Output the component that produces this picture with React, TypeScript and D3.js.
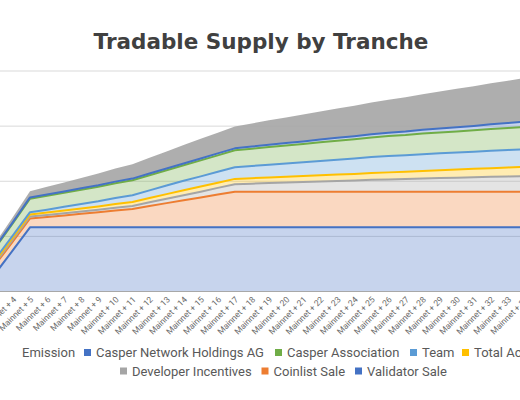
import React from "react";
import * as d3 from "d3";

const categories = [
  "Mainnet + 1", "Mainnet + 2", "Mainnet + 3", "Mainnet + 4", "Mainnet + 5", "Mainnet + 6",
  "Mainnet + 7", "Mainnet + 8", "Mainnet + 9", "Mainnet + 10", "Mainnet + 11", "Mainnet + 12",
  "Mainnet + 13", "Mainnet + 14", "Mainnet + 15", "Mainnet + 16", "Mainnet + 17", "Mainnet + 18",
  "Mainnet + 19", "Mainnet + 20", "Mainnet + 21", "Mainnet + 22", "Mainnet + 23", "Mainnet + 24",
  "Mainnet + 25", "Mainnet + 26", "Mainnet + 27", "Mainnet + 28", "Mainnet + 29", "Mainnet + 30",
  "Mainnet + 31", "Mainnet + 32", "Mainnet + 33", "Mainnet + 34",
];

// values in millions of tokens, bottom of stack first
const validatorSale = [0, 0, 340, 750, 1165, 1165, 1165, 1165, 1165, 1165, 1165, 1165, 1165, 1165, 1165, 1165, 1165, 1165, 1165, 1165, 1165, 1165, 1165, 1165, 1165, 1165, 1165, 1165, 1165, 1165, 1165, 1165, 1165, 1165];
const coinlistSale = [160, 160, 160, 160, 160, 186, 215, 244, 273, 304, 333, 386, 438, 489, 541, 594, 646, 646, 646, 646, 646, 646, 646, 646, 646, 646, 646, 646, 646, 646, 646, 646, 646, 646];
const developerIncentives = [33, 33, 33, 34, 36, 38, 40, 42, 45, 51, 54, 67, 78, 91, 105, 121, 136, 145, 156, 165, 174, 185, 194, 203, 214, 223, 230, 239, 246, 253, 262, 270, 277, 284];
const totalAccelerator = [36, 36, 36, 36, 36, 42, 49, 54, 60, 67, 72, 78, 85, 91, 92, 94, 96, 100, 103, 107, 110, 112, 116, 119, 123, 127, 132, 138, 143, 147, 152, 157, 163, 168];
const team = [33, 34, 36, 38, 42, 54, 69, 81, 94, 109, 121, 138, 156, 172, 185, 197, 210, 221, 230, 241, 250, 261, 270, 281, 290, 299, 300, 304, 306, 310, 311, 315, 317, 319];
const casperAssociation = [181, 190, 199, 221, 244, 250, 253, 259, 262, 268, 272, 275, 277, 281, 290, 299, 308, 313, 320, 326, 331, 338, 344, 349, 357, 362, 367, 373, 378, 382, 387, 393, 398, 404];
const casperNetworkHoldings = [16, 18, 18, 20, 24, 25, 25, 27, 29, 29, 31, 32, 33, 33, 34, 35, 36, 39, 42, 43, 47, 49, 52, 54, 58, 60, 63, 69, 72, 78, 81, 87, 90, 94];
const emission = [24, 47, 72, 92, 112, 138, 163, 188, 212, 237, 262, 284, 308, 335, 357, 376, 398, 420, 443, 465, 487, 510, 532, 554, 576, 597, 623, 646, 672, 697, 720, 746, 769, 795];

const seriesNames = [
  "Validator Sale", "Coinlist Sale", "Developer Incentives", "Total Accelerator",
  "Team", "Casper Association", "Casper Network Holdings AG", "Emission",
];
const seriesValues = [
  validatorSale, coinlistSale, developerIncentives, totalAccelerator,
  team, casperAssociation, casperNetworkHoldings, emission,
];
const yTicks = [0, 1000, 2000, 3000, 4000];

const COLORS: Record<string, string> = {
  "Validator Sale": "#4472c4",
  "Coinlist Sale": "#ed7d31",
  "Developer Incentives": "#a5a5a5",
  "Total Accelerator": "#ffc000",
  "Team": "#5b9bd5",
  "Casper Association": "#70ad47",
  "Casper Network Holdings AG": "#4472c4",
  "Emission": "#a5a5a5",
};

// legend layout (text start positions)
const legendRow1 = [
  { name: "Emission", x: 22, marker: false },
  { name: "Casper Network Holdings AG", x: 96, marker: true },
  { name: "Casper Association", x: 287, marker: true },
  { name: "Team", x: 422, marker: true },
  { name: "Total Accelerator", x: 474, marker: true },
];
const legendRow2 = [
  { name: "Developer Incentives", x: 132, marker: true },
  { name: "Coinlist Sale", x: 273.5, marker: true },
  { name: "Validator Sale", x: 367, marker: true },
];

export default function App() {
  const W = 520, H = 400;
  const step = 17.07;
  const x = d3.scalePoint<string>().domain(categories)
    .range([30 - 4 * step, 30 + 29 * step]).padding(0);
  const y = d3.scaleLinear().domain([0, 4000]).range([291.5, 71]);

  const table = categories.map((c, i) => {
    const row: any = { cat: c };
    seriesNames.forEach((n, k) => (row[n] = seriesValues[k][i]));
    return row;
  });
  const stacked = d3.stack<any>().keys(seriesNames)(table);

  const area = d3.area<any>()
    .x((d) => x(d.data.cat) as number)
    .y0((d) => y(d[0]))
    .y1((d) => y(d[1]));
  const line = d3.line<any>()
    .x((d) => x(d.data.cat) as number)
    .y((d) => y(d[1]));

  const font = "Roboto, 'Noto Sans', Arial, sans-serif";

  return (
    <svg width={W} height={H} style={{ position: "absolute", left: 0, top: 0, background: "#fff" }}
      fontFamily={font}>
      <rect x={0} y={0} width={W} height={H} fill="#fff" />
      <text x={261} y={48.5} textAnchor="middle" fontSize={21.5} fontWeight={700} fill="#404040"
        fontFamily="'DejaVu Sans', Arial, sans-serif">
        Tradable Supply by Tranche
      </text>
      {yTicks.map((t) => (
        <line key={t} x1={0} x2={W} y1={y(t)} y2={y(t)} stroke="#d9d9d9" strokeWidth={1} />
      ))}
      {stacked.map((s) => {
        const n = s.key;
        const isEm = n === "Emission";
        return (
          <path key={"a" + n} d={area(s) as string} fill={isEm ? "#a5a5a5" : COLORS[n]}
            fillOpacity={isEm ? 0.9 : 0.3} stroke="none" />
        );
      })}
      {stacked.map((s) => {
        const n = s.key;
        if (n === "Emission") return null;
        return (
          <path key={"l" + n} d={line(s) as string} fill="none" stroke={COLORS[n]}
            strokeWidth={2} strokeLinejoin="round" />
        );
      })}
      <line x1={0} x2={W} y1={y(0)} y2={y(0)} stroke="#a8a8a8" strokeWidth={1} />
      {categories.map((c) => {
        const cx = x(c) as number;
        return (
          <text key={c} transform={`translate(${cx + 4},${300}) rotate(-45)`} textAnchor="end"
            fontSize={8.5} fill="#6b6b6b">
            {c}
          </text>
        );
      })}
      {legendRow1.map((it) => (
        <g key={it.name}>
          {it.marker && <rect x={it.x - 12} y={349} width={7} height={7} fill={COLORS[it.name]} />}
          <text x={it.x} y={357} fontSize={13} fill="#595959">{it.name}</text>
        </g>
      ))}
      {legendRow2.map((it) => (
        <g key={it.name}>
          <rect x={it.x - 12} y={367.5} width={7} height={7} fill={COLORS[it.name]} />
          <text x={it.x} y={375.5} fontSize={13} fill="#595959">{it.name}</text>
        </g>
      ))}
    </svg>
  );
}
